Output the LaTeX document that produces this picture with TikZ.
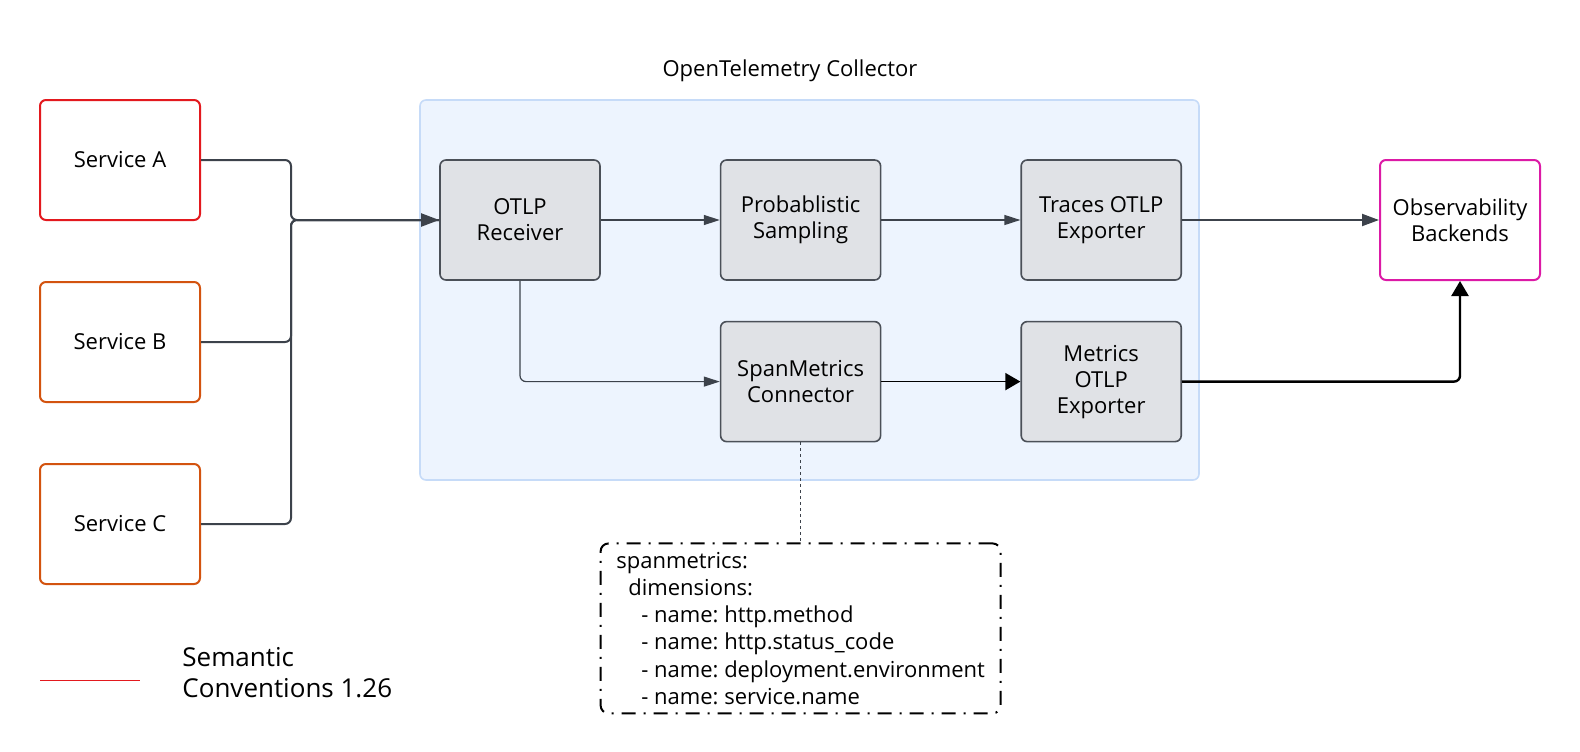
\documentclass[tikz,border=0pt]{standalone}
\usepackage{fontspec}
\setmainfont{Open Sans}
\usepackage{tikz}
\usetikzlibrary{arrows.meta}
\usetikzlibrary{positioning,calc}
\definecolor{svcRed}{HTML}{E3191E}
\definecolor{svcOrange}{HTML}{D3530F}
\definecolor{backendPink}{HTML}{DC1AA6}
\definecolor{collFill}{HTML}{EDF4FE}
\definecolor{collBorder}{HTML}{C6DBF8}
\definecolor{procFill}{HTML}{E0E2E6}
\definecolor{procBorder}{HTML}{4B5058}
\definecolor{wireColor}{HTML}{3C424B}
\tikzstyle{svcnode} = [draw=svcOrange,line width=1pt,rounded corners=3pt,fill=white,minimum width=80pt,minimum height=60pt,align=center,inner sep=0pt]
\tikzstyle{procnode} = [draw=procBorder,line width=0.8pt,rounded corners=3pt,fill=procFill,minimum width=80pt,minimum height=60pt,align=center,inner sep=0pt]
\tikzstyle{collbox} = [draw=collBorder,line width=0.8pt,rounded corners=3pt,fill=collFill,inner sep=0pt]
\tikzstyle{cfgnode} = [draw=black,line width=1pt,rounded corners=4pt,dash pattern=on 7pt off 4pt on 1pt off 4pt,minimum width=200pt,minimum height=85pt,inner sep=0pt,align=left,font=\fontsize{11}{13.6}\selectfont]
\tikzstyle{wire} = [draw=wireColor,line width=1pt,rounded corners=3pt]
\tikzstyle{thinwire} = [draw=wireColor,line width=0.6pt,rounded corners=3pt,-{Triangle[length=8pt,width=5pt]}]
\tikzstyle{metricwire} = [draw=black,line width=1.2pt,rounded corners=3pt,-{Triangle[length=7.5pt,width=8.5pt]}]
\frenchspacing

\begin{document}
\begin{tikzpicture}[x=0.5pt,y=-0.5pt,node distance=20pt]
%
\tikzset{every node/.style={font=\fontsize{11}{13}\selectfont}}
\useasboundingbox (0,0) rectangle (1580,751);

% collector frame
\node (coll) [collbox,minimum width=389.5pt,minimum height=190pt] at (809.5,290) {};
\node (colltitle) at (790,71) {OpenTelemetry Collector};

% services
\node (svcA) [svcnode,draw=svcRed] at (120,160) {Service A};
\node (svcB) [svcnode,below = 30pt of svcA] {Service B};
\node (svcC) [svcnode,below = 30pt of svcB] {Service C};

% pipeline
\node (recv) [procnode] at (520,220) {OTLP\\Receiver};
\node (samp) [procnode,right = 59.5pt of recv] {Probablistic\\Sampling};
\node (texp) [procnode,right = 69.5pt of samp] {Traces OTLP\\Exporter};
\node (spanm) [procnode,below = 20pt of samp] {SpanMetrics\\Connector};
\node (mexp) [procnode,below = 20pt of texp] {Metrics\\OTLP\\Exporter};

\node (obs) [svcnode,draw=backendPink] at (1460,220) {Observability\\Backends};

\node (spancfg) [cfgnode,below = 50pt of spanm] {spanmetrics:\\
\hspace*{6pt}dimensions:\\
\hspace*{12.5pt}- name: http.method\\
\hspace*{12.5pt}- name: http.status\_code\\
\hspace*{12.5pt}- name: deployment.environment\\
\hspace*{12.5pt}- name: service.name};

% legend
\coordinate (legL) at (40,680);
\coordinate (legR) at (140,680);
\node (legtext) [anchor=west,align=left,inner sep=0pt,font=\fontsize{13}{15.5}\selectfont] at (182,673) {Semantic\\Conventions 1.26};

%
\draw [wire,-{Triangle[length=9pt,width=6.5pt]}] (svcA.east) -- ++(90,0) |- (recv.west);
\draw [wire] (svcB.east) -- ++(90,0) |- (recv.west);
\draw [wire] (svcC.east) -- ++(90,0) |- (recv.west);
\draw [thinwire] (recv) -- (samp);
\draw [thinwire] (samp) -- (texp);
\draw [thinwire] (recv.south) |- (spanm.west);
\draw [metricwire,line width=0.8pt] (spanm) -- (mexp);
\draw [wire,-{Triangle[length=8.5pt,width=6pt]}] (texp) -- (obs);
\draw [metricwire] (mexp.east) -| (obs.south);
\draw [draw=wireColor,line width=0.5pt,dash pattern=on 1.5pt off 1.5pt] (spanm) -- (spancfg);
\draw [svcRed,line width=0.5pt] (legL) -- (legR);
\end{tikzpicture}
\end{document}
